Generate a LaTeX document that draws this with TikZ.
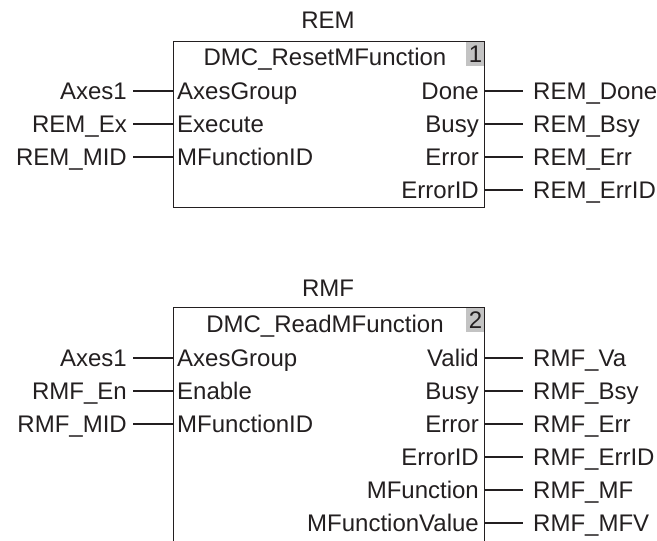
\documentclass[tikz,border=0pt]{standalone}
\usepackage{fontspec}
\setmainfont{Liberation Sans}
\definecolor{ink}{HTML}{231F20}
\definecolor{tagfill}{HTML}{C3C3C3}
\begin{document}
\begin{tikzpicture}[x=1pt,y=-1pt,
  every node/.style={font=\fontsize{24}{28}\selectfont, text=ink, inner sep=0pt},
  fbox/.style={draw=ink, line width=1.3pt, minimum width=311.5pt, anchor=north west},
  tagbox/.style={fill=tagfill, minimum width=18pt, minimum height=24pt, anchor=north east},
  wire/.style={draw=ink, line width=1.1pt},
  inlab/.style={anchor=base east, inner xsep=6pt},
  outlab/.style={anchor=base west, inner xsep=10pt},
  pinin/.style={anchor=base west},
  pinout/.style={anchor=base east}]
\useasboundingbox (0,0) rectangle (657,541);
\clip (0,0) rectangle (657,541);

% ---------- block 1 ----------
\node[anchor=base] (inst1) at (328,28.6) {REM};
\node[fbox, minimum height=166pt] (fb1) at (172.5,41) {};
\node[tagbox] (tag1) at ([xshift=-0.65pt,yshift=-0.65pt]fb1.north east) {1};
\node[anchor=base] (title1) at (325,65.6) {DMC\_ResetMFunction};
\foreach \k/\p/\v in {1/AxesGroup/Axes1, 2/Execute/REM\_Ex, 3/MFunctionID/REM\_MID}{
  \coordinate (ia\k) at (172.5,{91+33*(\k-1)});
  \node[pinin] (ipa\k) at (177,{99.6+33*(\k-1)}) {\p};
  \node[inlab] (iva\k) at (133,{99.6+33*(\k-1)}) {\v};
  \draw[wire] (iva\k.east |- ia\k) -- (ia\k);
}
\foreach \k/\p/\v in {1/Done/REM\_Done, 2/Busy/REM\_Bsy, 3/Error/REM\_Err, 4/ErrorID/REM\_ErrID}{
  \coordinate (oa\k) at (484,{91+33*(\k-1)});
  \node[pinout] (opa\k) at (479,{99.6+33*(\k-1)}) {\p};
  \node[outlab] (ova\k) at (523,{99.6+33*(\k-1)}) {\v};
  \draw[wire] (oa\k) -- (ova\k.west |- oa\k);
}

% ---------- block 2 ----------
\node[anchor=base] (inst2) at (328,296.6) {RMF};
\node[fbox, minimum height=260pt] (fb2) at (172.5,307) {};
\node[tagbox] (tag2) at ([xshift=-0.65pt,yshift=-0.65pt]fb2.north east) {2};
\node[anchor=base] (title2) at (325,332.6) {DMC\_ReadMFunction};
\foreach \k/\p/\v in {1/AxesGroup/Axes1, 2/Enable/RMF\_En, 3/MFunctionID/RMF\_MID}{
  \coordinate (ib\k) at (172.5,{358+33*(\k-1)});
  \node[pinin] (ipb\k) at (177,{366.6+33*(\k-1)}) {\p};
  \node[inlab] (ivb\k) at (133,{366.6+33*(\k-1)}) {\v};
  \draw[wire] (ivb\k.east |- ib\k) -- (ib\k);
}
\foreach \k/\p/\v in {1/Valid/RMF\_Va, 2/Busy/RMF\_Bsy, 3/Error/RMF\_Err, 4/ErrorID/RMF\_ErrID, 5/MFunction/RMF\_MF, 6/MFunctionValue/RMF\_MFV}{
  \coordinate (ob\k) at (484,{358+33*(\k-1)});
  \node[pinout] (opb\k) at (479,{366.6+33*(\k-1)}) {\p};
  \node[outlab] (ovb\k) at (523,{366.6+33*(\k-1)}) {\v};
  \draw[wire] (ob\k) -- (ovb\k.west |- ob\k);
}
\end{tikzpicture}
\end{document}
